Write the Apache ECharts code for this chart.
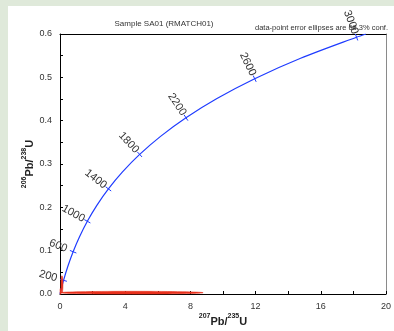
<!DOCTYPE html>
<html>
<head>
<meta charset="utf-8">
<script src="https://cdn.jsdelivr.net/npm/echarts@6/dist/echarts.min.js"></script>
<style>
  html, body { margin: 0; padding: 0; }
  #wrap { position: relative; width: 394px; height: 331px; background: #dfe9da; overflow: hidden; }
  #panel { position: absolute; left: 8px; top: 6px; right: 0; bottom: 0; background: #ffffff; }
  #chart { position: absolute; left: 0; top: 0; width: 394px; height: 331px; }
</style>
</head>
<body>
<div id="wrap"><div id="panel"></div><div id="chart"></div></div>
<script>
// Concordia (age in Ma, 207Pb/235U, 206Pb/238U)
const curveAge = [0, 200, 400, 600, 800, 1000, 1200, 1400, 1600, 1800, 2000, 2200, 2400, 2600, 2800, 3000, 3030];
const curveX = [0, 0.21771, 0.48281, 0.80563, 1.19873, 1.67741, 2.26030, 2.97009, 3.83441, 4.88690, 6.16853, 7.72917, 9.62957, 11.94372, 14.76166, 18.19306, 18.7686];
const curveY = [0, 0.031511, 0.064016, 0.097544, 0.132132, 0.167817, 0.204610, 0.242574, 0.281727, 0.322120, 0.363789, 0.406766, 0.451093, 0.496815, 0.543970, 0.592618, 0.60004];

// Labelled age marks on the concordia
const tickAges = [200, 600, 1000, 1400, 1800, 2200, 2600, 3000];

// Data-point error ellipses: centre and half-axes
const spotX = [4.39, 0.12, 0.03];
const spotY = [0.003, 0.022, 0.006];
const spotErrX = [4.39, 0.06, 0.03];
const spotErrY = [0.0032, 0.02, 0.007];

// Axis tick values
const xTicks = [0, 4, 8, 12, 16, 20];
const yTicks = [0.0, 0.1, 0.2, 0.3, 0.4, 0.5, 0.6];

const FONT = 'Liberation Sans, Arial, sans-serif';
const BLUE = '#1f3cff';
const RED = '#e8301c';

const chart = echarts.init(document.getElementById('chart'), null, { renderer: 'canvas' });

const curveData = curveX.map((x, i) => [x, curveY[i]]);
const tickData = tickAges.map(a => {
  const i = curveAge.indexOf(a);
  return [curveX[i], curveY[i], i, a];
});
const spotData = spotX.map((x, i) => [x, spotY[i], spotErrX[i], spotErrY[i]]);

const supRich = {
  b: { fontSize: 11, fontWeight: 'bold', color: '#222', fontFamily: FONT, lineHeight: 14, verticalAlign: 'bottom' },
  s: { fontSize: 7, fontWeight: 'bold', color: '#222', fontFamily: FONT, lineHeight: 14, verticalAlign: 'top' }
};

chart.setOption({
  animation: false,
  backgroundColor: 'transparent',
  title: [
    {
      text: 'Sample SA01 (RMATCH01)',
      left: 159, top: 15, textAlign: 'center',
      textStyle: { fontSize: 8, fontWeight: 'normal', color: '#333', fontFamily: FONT }
    },
    {
      text: 'data-point error ellipses are 68.3% conf.',
      right: 1, top: 19,
      textStyle: { fontSize: 7.5, fontWeight: 'normal', color: '#333', fontFamily: FONT }
    }
  ],
  grid: { left: 60, right: 8, top: 34, bottom: 37, containLabel: false, outerBoundsMode: 'none' },
  xAxis: [
    {
      type: 'value', min: xTicks[0], max: xTicks[xTicks.length - 1], interval: 4,
      position: 'bottom',
      axisLine: { onZero: false, lineStyle: { color: '#000', width: 1 } },
      axisTick: { inside: true, length: 3, lineStyle: { color: '#000' } },
      minorTick: { show: true, splitNumber: 2, length: 3, lineStyle: { color: '#000' } },
      splitLine: { show: false },
      axisLabel: { color: '#333', fontSize: 9, fontFamily: FONT, margin: 8 },
      name: '{s|207}{b|Pb/}{s|235}{b|U}',
      nameLocation: 'middle', nameGap: 19, nameMoveOverlap: false,
      nameTextStyle: { rich: supRich }
    },
    {
      type: 'value', min: 0, max: 20, position: 'top',
      axisLine: { onZero: false, lineStyle: { color: '#000', width: 1 } },
      axisTick: { show: false }, axisLabel: { show: false }, splitLine: { show: false }
    }
  ],
  yAxis: [
    {
      type: 'value', min: yTicks[0], max: yTicks[yTicks.length - 1], interval: 0.1,
      position: 'left',
      axisLine: { onZero: false, lineStyle: { color: '#000', width: 1 } },
      axisTick: { inside: true, length: 3, lineStyle: { color: '#000' } },
      minorTick: { show: true, splitNumber: 2, length: 3, lineStyle: { color: '#000' } },
      splitLine: { show: false },
      axisLabel: { color: '#333', fontSize: 9, fontFamily: FONT, margin: 8, formatter: v => v.toFixed(1) },
      name: '{s|206}{b|Pb/}{s|238}{b|U}',
      nameLocation: 'middle', nameRotate: 90, nameGap: 25, nameMoveOverlap: false,
      nameTextStyle: { rich: supRich }
    },
    {
      type: 'value', min: 0, max: 0.6, position: 'right',
      axisLine: { onZero: false, lineStyle: { color: '#8a8a8a', width: 1 } },
      axisTick: { show: false }, axisLabel: { show: false }, splitLine: { show: false }
    }
  ],
  series: [
    {
      type: 'line',
      data: curveData,
      showSymbol: false,
      smooth: 0.3,
      lineStyle: { color: BLUE, width: 1.2 },
      z: 3
    },
    {
      // age marks: short bar across the curve plus a rotated age label
      type: 'custom',
      data: tickData,
      encode: { x: 0, y: 1 },
      z: 4,
      renderItem: function (params, api) {
        const i = api.value(2);
        const p = api.coord([api.value(0), api.value(1)]);
        const a = api.coord([curveX[i - 1], curveY[i - 1]]);
        const j = Math.min(i + 1, curveX.length - 1);
        const b = api.coord([curveX[j], curveY[j]]);
        let tx = b[0] - a[0], ty = b[1] - a[1];
        const len = Math.hypot(tx, ty);
        tx /= len; ty /= len;
        // normal pointing to the upper-left side of the curve
        const nx = ty, ny = -tx;
        const h = 3.5, d = 16;
        const cx = p[0] + nx * d, cy = p[1] + ny * d;
        const rot = Math.atan2(ny, -nx);
        return {
          type: 'group',
          children: [
            {
              type: 'line',
              shape: { x1: p[0] - nx * h, y1: p[1] - ny * h, x2: p[0] + nx * h, y2: p[1] + ny * h },
              style: { stroke: BLUE, lineWidth: 1 }
            },
            {
              type: 'text',
              x: cx, y: cy, rotation: rot,
              style: {
                text: String(api.value(3)),
                x: 0, y: 0,
                textAlign: 'center', textVerticalAlign: 'middle',
                align: 'center', verticalAlign: 'middle',
                fontSize: 11, fontFamily: FONT, fill: '#333'
              }
            }
          ]
        };
      }
    },
    {
      // error ellipses of the measured spots
      type: 'custom',
      data: spotData,
      encode: { x: 0, y: 1 },
      z: 5,
      renderItem: function (params, api) {
        const cx = api.value(0), cy = api.value(1), ex = api.value(2), ey = api.value(3);
        const pts = [];
        for (let k = 0; k < 72; k++) {
          const t = k / 72 * Math.PI * 2;
          pts.push(api.coord([cx + ex * Math.cos(t), cy + ey * Math.sin(t)]));
        }
        return {
          type: 'polygon',
          shape: { points: pts },
          style: { fill: RED, stroke: RED, lineWidth: 0.6 }
        };
      }
    }
  ]
});
</script>
</body>
</html>
